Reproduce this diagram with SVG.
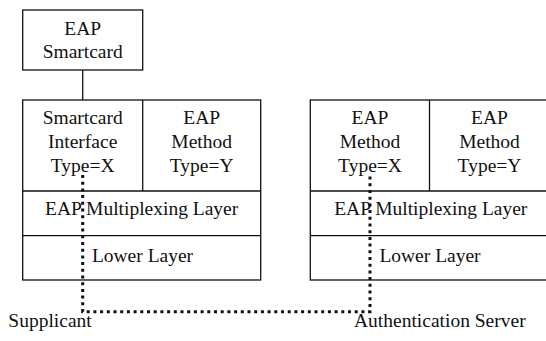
<svg xmlns="http://www.w3.org/2000/svg" width="546" height="341" viewBox="0 0 546 341">
<style>
.box{fill:#fff;stroke:#111;stroke-width:1.3}
.ln{stroke:#111;stroke-width:1.3;fill:none}
text{font-size:19.5px;fill:#111}
.c{text-anchor:middle}
.dot{stroke:#111;stroke-width:3;fill:none;stroke-dasharray:3 3.7}
</style>
<rect width="546" height="341" fill="#fff"/>
<g font-family="Liberation Serif, DejaVu Serif, serif">
<g id="smartcard">
<rect class="box" x="22.7" y="10" width="120" height="60"/>
<text class="c" x="82.7" y="35">EAP</text>
<text class="c" x="82.7" y="57.5">Smartcard</text>
</g>
<g id="supplicant-stack">
<rect class="box" x="22.7" y="100" width="238" height="180"/>
<line class="ln" x1="22.7" y1="191" x2="260.7" y2="191"/>
<line class="ln" x1="22.7" y1="235.7" x2="260.7" y2="235.7"/>
<line class="ln" x1="142.7" y1="100" x2="142.7" y2="191"/>
</g>
<g id="sc-interface">
<text class="c" x="82.7" y="124">Smartcard</text>
<text class="c" x="82.7" y="148">Interface</text>
<text class="c" x="82.7" y="171.5">Type=X</text>
</g>
<g id="sup-method-y">
<text class="c" x="201.7" y="124">EAP</text>
<text class="c" x="201.7" y="148">Method</text>
<text class="c" x="201.7" y="171.5">Type=Y</text>
</g>
<g id="sup-mux"><text class="c" x="141.7" y="215">EAP Multiplexing Layer</text></g>
<g id="sup-lower"><text class="c" x="142.5" y="261.5">Lower Layer</text></g>
<g id="server-stack">
<rect class="box" x="310.3" y="100" width="239" height="180"/>
<line class="ln" x1="310.3" y1="191" x2="549" y2="191"/>
<line class="ln" x1="310.3" y1="235.7" x2="549" y2="235.7"/>
<line class="ln" x1="429.5" y1="100" x2="429.5" y2="191"/>
</g>
<g id="srv-method-x">
<text class="c" x="370" y="124">EAP</text>
<text class="c" x="370" y="148">Method</text>
<text class="c" x="370" y="171.5">Type=X</text>
</g>
<g id="srv-method-y">
<text class="c" x="489.5" y="124">EAP</text>
<text class="c" x="489.5" y="148">Method</text>
<text class="c" x="489.5" y="171.5">Type=Y</text>
</g>
<g id="srv-mux"><text class="c" x="430.8" y="215">EAP Multiplexing Layer</text></g>
<g id="srv-lower"><text class="c" x="430" y="261.5">Lower Layer</text></g>
<g id="labels">
<text x="8.3" y="327">Supplicant</text>
<text x="354" y="327">Authentication Server</text>
</g>
</g>
<g id="connectors">
<line class="ln" x1="82.7" y1="70" x2="82.7" y2="100"/>
<path class="dot" d="M82.7 175 V311.7 H370 V175"/>
</g>
</svg>
